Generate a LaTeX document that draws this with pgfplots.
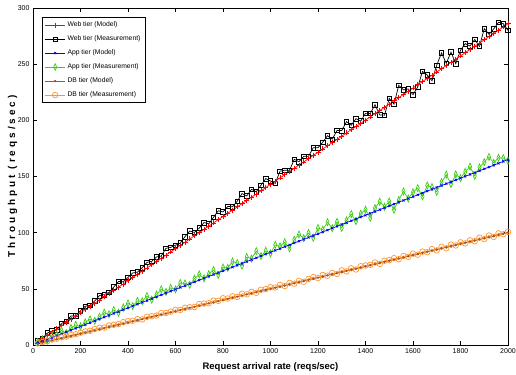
\documentclass[border=0pt]{standalone}
\usepackage{fontspec}
\setmainfont{Liberation Sans}
\usepackage{pgfplots}
\usepackage{pgfplotstable}
\pgfplotsset{compat=1.18}
\definecolor{mgreen}{RGB}{60,205,20}
\definecolor{morange}{RGB}{255,150,50}
\definecolor{mbrown}{RGB}{165,85,40}
\pgfplotstableread{
x webmodel webmeas appmodel appmeas dbmodel dbmeas
20 2.9 3.9 1.7 2.7 1 1.5
40 5.7 5.7 3.3 5.3 2 2.6
60 8.6 10.6 5.0 4.0 3 3.4
80 11.4 12.4 6.6 8.6 4 4.9
100 14.3 13.3 8.3 9.3 5 5.6
120 17.2 19.2 9.9 12.9 6 6.8
140 20.0 21.0 11.6 10.6 7 7.5
160 22.9 25.9 13.2 15.2 8 8.9
180 25.7 25.7 14.9 17.9 9 9.6
200 28.6 30.6 16.5 16.5 10 11.0
220 31.5 34.5 18.2 20.2 11 12.1
240 34.3 35.3 19.8 22.8 12 12.6
260 37.2 39.2 21.5 21.5 13 14.2
280 40.0 44.0 23.1 25.1 14 15.3
300 42.9 44.9 24.8 28.8 15 15.5
320 45.8 46.8 26.4 27.4 16 17.4
340 48.6 51.6 28.1 31.1 17 18.0
360 51.5 56.5 29.7 28.7 18 18.6
380 54.3 56.3 31.4 33.4 19 20.3
400 57.2 60.2 33.0 37.0 20 21.2
420 60.1 64.1 34.7 34.7 21 21.6
440 62.9 64.9 36.3 39.3 22 23.0
460 65.8 68.8 38.0 39.0 23 22.8
480 68.6 73.6 39.6 43.6 24 25.1
500 71.5 74.5 41.3 40.3 25 25.6
520 74.4 78.4 42.9 44.9 26 26.2
540 77.2 79.2 44.6 49.6 27 28.4
560 80.1 86.1 46.2 47.2 28 28.5
580 82.9 86.9 47.9 50.9 29 29.7
600 85.8 88.8 49.5 49.5 30 31.3
620 88.7 90.7 51.2 55.2 31 31.2
640 91.5 96.5 52.8 54.8 32 33.1
660 94.4 101.4 54.5 53.5 33 33.6
680 97.2 100.2 56.1 59.1 34 33.8
700 100.1 104.1 57.8 62.8 35 36.4
720 103.0 109.0 59.4 59.4 36 36.9
740 105.8 107.8 61.1 63.1 37 37.2
760 108.7 113.7 62.7 66.7 38 39.5
780 111.5 119.5 64.4 62.4 39 39.3
800 114.4 118.4 66.0 69.0 40 41.6
820 117.3 123.3 67.7 68.7 41 41.4
840 120.1 123.1 69.3 74.3 42 43.3
860 123.0 128.0 71.0 73.0 43 42.8
880 125.8 134.8 72.6 70.6 44 45.6
900 128.7 132.7 74.3 78.3 45 45.1
920 131.6 138.6 75.9 76.9 46 47.3
940 134.4 136.4 77.6 83.6 47 46.5
960 137.3 142.3 79.2 79.2 48 49.2
980 140.1 148.1 80.9 83.9 49 49.8
1000 143.0 146.0 82.5 81.5 50 51.4
1020 145.9 143.9 84.2 89.2 51 51.2
1040 148.7 154.7 85.8 87.8 52 53.5
1060 151.6 155.6 87.5 91.5 53 52.4
1080 154.4 155.4 89.1 86.1 54 55.3
1100 157.3 165.3 90.8 93.8 55 54.6
1120 160.2 163.2 92.4 98.4 56 57.2
1140 163.0 168.0 94.1 95.1 57 56.3
1160 165.9 167.9 95.7 99.7 58 58.8
1180 168.7 175.7 97.4 95.4 59 60.5
1200 171.6 175.6 99.0 104.0 60 59.6
1220 174.5 180.5 100.7 102.7 61 62.3
1240 177.3 186.3 102.3 109.3 62 61.7
1260 180.2 183.2 104.0 104.0 63 64.1
1280 183.0 191.0 105.6 109.6 64 63.2
1300 185.9 190.9 107.3 104.3 65 66.4
1320 188.8 198.8 108.9 110.9 66 65.5
1340 191.6 195.6 110.6 116.6 67 68.3
1360 194.5 201.5 112.2 110.2 68 67.2
1380 197.3 199.3 113.9 116.9 69 70.1
1400 200.2 206.2 115.5 120.5 70 70.8
1420 203.1 206.1 117.2 113.2 71 71.4
1440 205.9 213.9 118.8 121.8 72 73.5
1460 208.8 204.8 120.5 127.5 73 72.2
1480 211.6 204.6 122.1 123.1 74 75.0
1500 214.5 219.5 123.8 127.8 75 75.6
1520 217.4 214.4 125.4 120.4 76 77.3
1540 220.2 231.2 127.1 129.1 77 76.4
1560 223.1 227.1 128.7 136.7 78 79.2
1580 225.9 227.9 130.4 130.4 79 78.5
1600 228.8 222.8 132.0 136.0 80 81.3
1620 231.7 229.7 133.7 139.7 81 80.4
1640 234.5 243.5 135.3 132.3 82 83.1
1660 237.4 240.4 137.0 142.0 83 82.6
1680 240.2 235.2 138.6 140.6 84 85.4
1700 243.1 249.1 140.3 136.3 85 84.2
1720 246.0 260.0 141.9 144.9 86 87.5
1740 248.8 250.8 143.6 151.6 87 86.1
1760 251.7 260.7 145.2 143.2 88 89.3
1780 254.5 250.5 146.9 151.9 89 88.6
1800 257.4 262.4 148.5 148.5 90 91.4
1820 260.3 268.3 150.2 154.2 91 90.5
1840 263.1 266.1 151.8 158.8 92 93.2
1860 266.0 272.0 153.5 150.5 93 92.4
1880 268.8 265.8 155.1 158.1 94 95.6
1900 271.7 281.7 156.8 162.8 95 94.3
1920 274.6 276.6 158.4 167.4 96 97.5
1940 277.4 281.4 160.1 162.1 97 96.2
1960 280.3 287.3 161.7 166.7 98 99.4
1980 283.1 286.1 163.4 166.4 99 98.6
2000 286.0 280.0 165.0 164.0 100 100.8
}\datatable
\begin{document}
\begin{tikzpicture}
\begin{axis}[
  scale only axis, width=475bp, height=337bp,
  xmin=0, xmax=2000, ymin=0, ymax=300,
  xtick={0,200,...,2000}, ytick={0,50,...,300},
  tick align=inside, xtick pos=both, ytick pos=both,
  major tick length=4bp,
  axis line style={line width=0.9bp},
  tick style={black, line width=0.6bp},
  tick label style={font=\fontsize{7}{8}\selectfont},
  /pgf/number format/assume math mode=true,
  /pgf/number format/set thousands separator={},
  scaled ticks=false,
  xlabel={\bfseries Request arrival rate (reqs/sec)},
  xlabel style={at={(axis description cs:0.5,-0.065)}, anchor=center, font=\fontsize{9.5}{10}\selectfont},
  ylabel={\bfseries\addfontfeature{LetterSpace=30}Throughput (reqs/sec)},
  ylabel style={at={(axis description cs:-0.043,0.5)}, anchor=center, font=\fontsize{10}{10}\selectfont},
  legend style={at={(0.019,0.973)}, anchor=north west, draw=black, line width=0.6bp,
    font=\fontsize{6.8}{7}\selectfont, row sep=3.6bp, inner sep=2.5bp},
  legend cell align=left,
  legend image code/.code={\draw[mark repeat=2,mark phase=2] plot coordinates {(0bp,0bp) (10bp,0bp) (20bp,0bp)};},
]
\addlegendimage{red, line width=0.7bp, mark=+, mark size=2.5bp}
\addlegendentry{Web tier (Model)}
\addlegendimage{black, line width=0.7bp, mark=square, mark size=2.2bp}
\addlegendentry{Web tier (Measurement)}
\addlegendimage{blue, line width=0.7bp, mark=x, mark size=1.5bp}
\addlegendentry{App tier (Model)}
\addlegendimage{mgreen, line width=0.7bp, mark=diamond, mark size=3.3bp, mark options={xscale=0.6}}
\addlegendentry{App tier (Measurement)}
\addlegendimage{mbrown, line width=0.7bp, mark=*, mark size=0.8bp}
\addlegendentry{DB tier (Model)}
\addlegendimage{morange, line width=0.7bp, mark=o, mark size=2.8bp}
\addlegendentry{DB tier (Measurement)}

\addplot[forget plot, black, line width=0.7bp, mark=square, mark size=2.3bp] table[x=x, y=webmeas] {\datatable};
\addplot[forget plot, red, line width=0.7bp, mark=+, mark size=2.5bp] table[x=x, y=webmodel] {\datatable};
\addplot[forget plot, mgreen, line width=0.7bp, mark=diamond, mark size=3.5bp, mark options={xscale=0.6}] table[x=x, y=appmeas] {\datatable};
\addplot[forget plot, blue, line width=0.7bp, mark=x, mark size=1.5bp] table[x=x, y=appmodel] {\datatable};
\addplot[forget plot, morange, line width=0.7bp, mark=o, mark size=2.8bp] table[x=x, y=dbmeas] {\datatable};
\addplot[forget plot, mbrown, line width=0.7bp, mark=*, mark size=0.8bp] table[x=x, y=dbmodel] {\datatable};
\end{axis}
\pgfresetboundingbox
\path ([shift={(-33bp,-30bp)}]current axis.south west) rectangle ([shift={(8bp,8bp)}]current axis.north east);
\end{tikzpicture}
\end{document}
